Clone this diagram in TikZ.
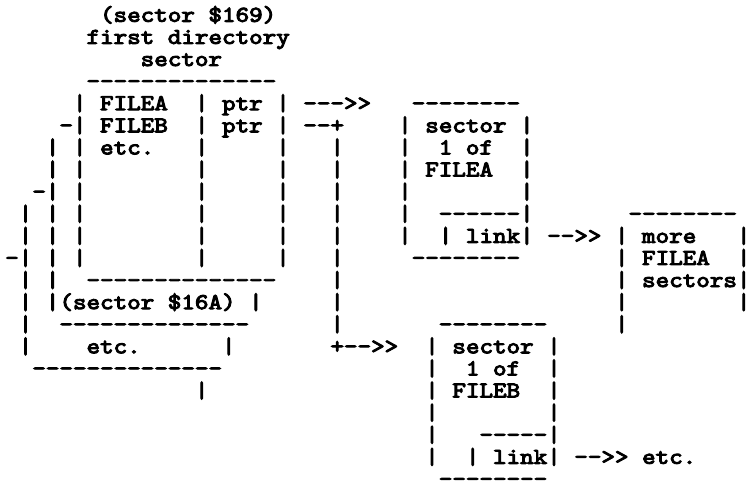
\documentclass[tikz,border=0pt]{standalone}
\usepackage{fontspec}
\usepackage{graphicx}
\setmonofont{lmmono10-regular.otf}[FakeBold=4]
\newcommand\asc[3]{\node[ascii] (n#1x#2) at ({12+13.55*#1-6.775},{21.8+22.1*#2}) {\scalebox{1.1385}[1]{#3}};}
\begin{document}
\begin{tikzpicture}[x=1pt,y=-1pt,
  ascii/.style={anchor=base west,inner sep=0pt,outer sep=0pt,text=black,
    font=\ttfamily\bfseries\fontsize{22.67}{22}\selectfont}]
\fill[white] (0,0) rectangle (751,487);
\useasboundingbox (0,0) rectangle (751,487);
% title
\asc{7}{0}{(sector \$169)}
\asc{6}{1}{first directory}
\asc{10}{2}{sector}
\asc{6}{3}{--------------}
% row 4
\asc{5}{4}{|}\asc{7}{4}{FILEA}\asc{14}{4}{|}\asc{16}{4}{ptr}\asc{20}{4}{|}
\asc{22}{4}{--->>}\asc{30}{4}{--------}
% row 5
\asc{4}{5}{-|}\asc{7}{5}{FILEB}\asc{14}{5}{|}\asc{16}{5}{ptr}\asc{20}{5}{|}
\asc{22}{5}{--+}\asc{29}{5}{|}\asc{31}{5}{sector}\asc{38}{5}{|}
% row 6
\asc{3}{6}{|}\asc{5}{6}{|}\asc{7}{6}{etc.}\asc{14}{6}{|}\asc{20}{6}{|}
\asc{24}{6}{|}\asc{29}{6}{|}\asc{32}{6}{1 of}\asc{38}{6}{|}
% row 7
\asc{3}{7}{|}\asc{5}{7}{|}\asc{14}{7}{|}\asc{20}{7}{|}
\asc{24}{7}{|}\asc{29}{7}{|}\asc{31}{7}{FILEA}\asc{38}{7}{|}
% row 8
\asc{2}{8}{-|}\asc{5}{8}{|}\asc{14}{8}{|}\asc{20}{8}{|}
\asc{24}{8}{|}\asc{29}{8}{|}\asc{38}{8}{|}
% row 9
\asc{1}{9}{|}\asc{3}{9}{|}\asc{5}{9}{|}\asc{14}{9}{|}\asc{20}{9}{|}
\asc{24}{9}{|}\asc{29}{9}{|}\asc{32}{9}{------|}\asc{46}{9}{--------}
% row 10
\asc{1}{10}{|}\asc{3}{10}{|}\asc{5}{10}{|}\asc{14}{10}{|}\asc{20}{10}{|}
\asc{24}{10}{|}\asc{29}{10}{|}\asc{32}{10}{| link|}\asc{40}{10}{-->>}
\asc{45}{10}{| more}\asc{54}{10}{|}
% row 11
\asc{0}{11}{-|}\asc{3}{11}{|}\asc{5}{11}{|}\asc{14}{11}{|}\asc{20}{11}{|}
\asc{24}{11}{|}\asc{30}{11}{--------}\asc{45}{11}{| FILEA}\asc{54}{11}{|}
% row 12
\asc{1}{12}{|}\asc{3}{12}{|}\asc{6}{12}{--------------}\asc{24}{12}{|}
\asc{45}{12}{| sectors|}
% row 13
\asc{1}{13}{|}\asc{3}{13}{|(sector \$16A) |}\asc{24}{13}{|}
\asc{45}{13}{|}\asc{54}{13}{|}
% row 14
\asc{1}{14}{|}\asc{4}{14}{--------------}\asc{24}{14}{|}
\asc{32}{14}{--------}\asc{45}{14}{|}
% row 15
\asc{1}{15}{|}\asc{6}{15}{etc.}\asc{16}{15}{|}\asc{24}{15}{+-->>}
\asc{31}{15}{| sector |}
% row 16
\asc{2}{16}{--------------}\asc{31}{16}{|}\asc{34}{16}{1 of}\asc{40}{16}{|}
% row 17
\asc{14}{17}{|}\asc{31}{17}{|}\asc{33}{17}{FILEB}\asc{40}{17}{|}
% row 18
\asc{31}{18}{|}\asc{40}{18}{|}
% row 19
\asc{31}{19}{|}\asc{35}{19}{-----|}
% row 20
\asc{31}{20}{|}\asc{34}{20}{| link|}\asc{42}{20}{-->>}\asc{47}{20}{etc.}
% row 21
\asc{32}{21}{--------}
\end{tikzpicture}
\end{document}
